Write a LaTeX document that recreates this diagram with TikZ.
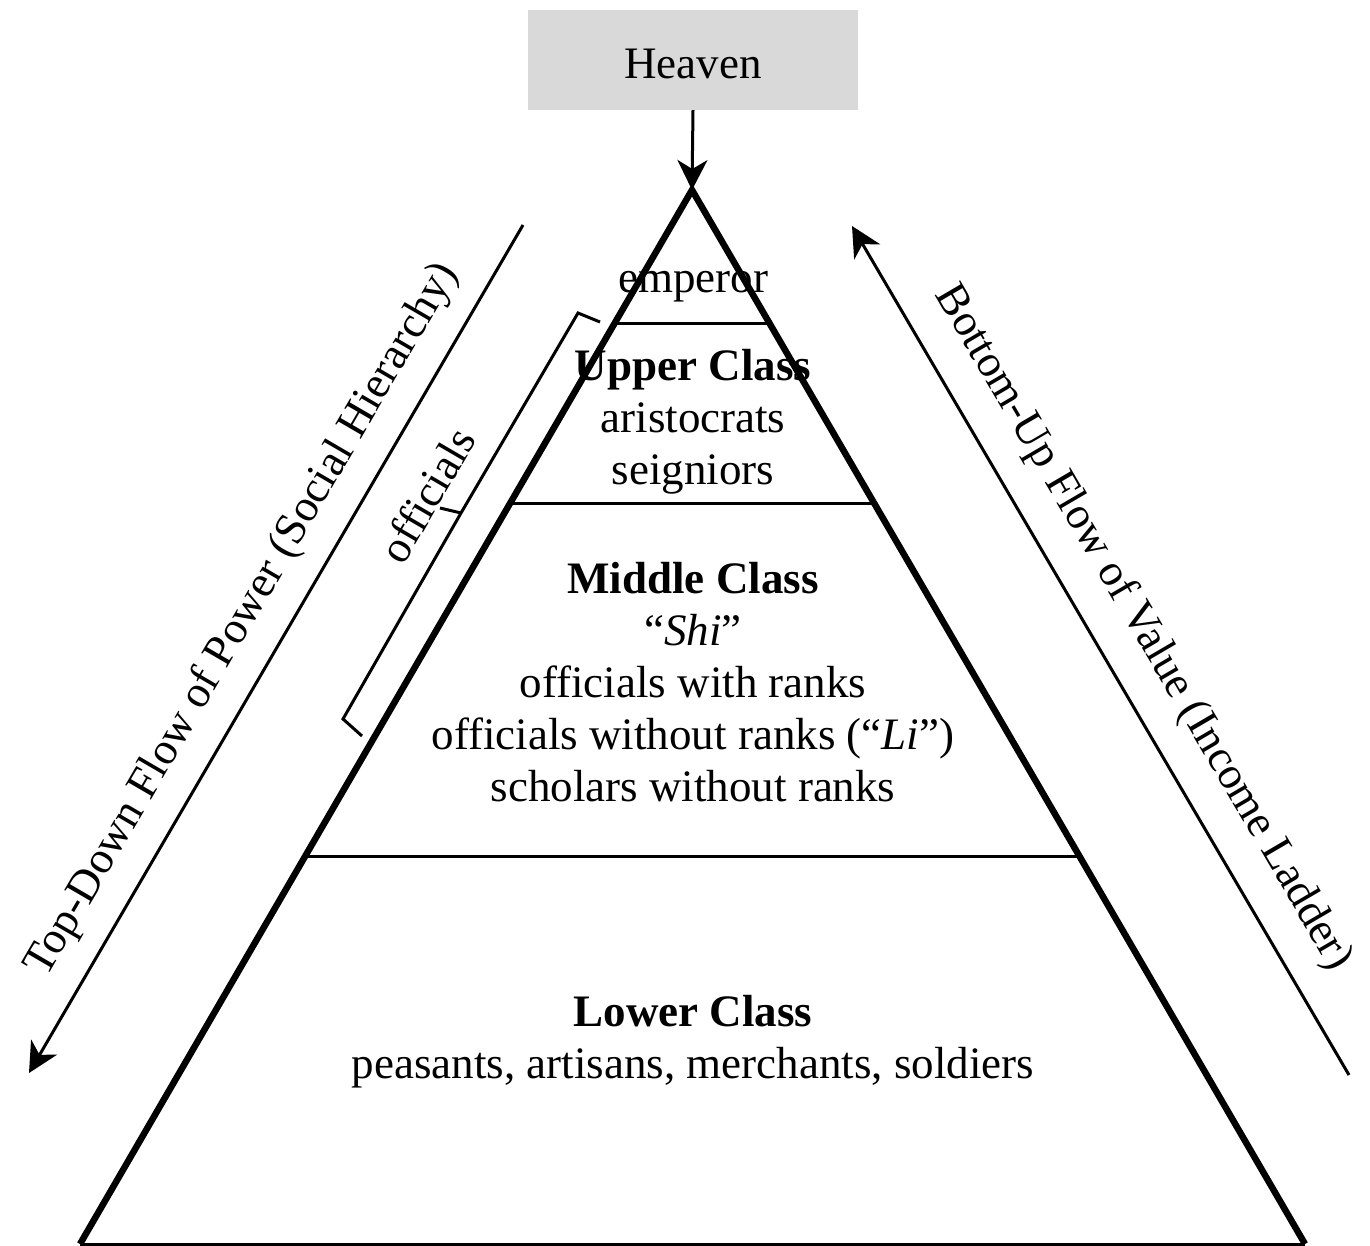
\documentclass[tikz,border=0pt]{standalone}
\usepackage{fontspec}
\setmainfont{Liberation Serif}
\usetikzlibrary{arrows.meta,calc}
\definecolor{heavengray}{HTML}{D9D9D9}
\begin{document}
\begin{tikzpicture}[x=1pt,y=-1pt,
  txt/.style={font=\fontsize{45}{52}\selectfont, inner sep=0pt, anchor=base},
  boldtxt/.style={txt, font=\fontsize{45}{52}\selectfont\bfseries},
  rottxt/.style={font=\fontsize{45}{52}\selectfont, inner sep=0pt, anchor=center},
  side/.style={line width=6.5pt, line join=miter},
  layer/.style={line width=3pt},
  flow/.style={line width=3pt, -{Stealth[length=30pt,width=30pt,inset=9pt]}},
  bracketline/.style={line width=3pt, line join=miter}]
\useasboundingbox (0,0) rectangle (1370,1245);

% Heaven box
\node[fill=heavengray, minimum width=330pt, minimum height=100pt, inner sep=0pt,
      text height=36pt, text depth=0pt,
      font=\fontsize{45}{52}\selectfont] (heaven) at (693,60) {Heaven};

% pyramid
\coordinate (apex) at (692,190);
\coordinate (bl) at (80,1244);
\coordinate (br) at (1305,1244);
\draw[side] (bl) -- (apex) -- (br);
\draw[layer] (bl) -- (br);
\draw[layer] ($(apex)!0.1262!(bl)$) -- ($(apex)!0.1262!(br)$);
\draw[layer] ($(apex)!0.2970!(bl)$) -- ($(apex)!0.2970!(br)$);
\draw[layer] ($(apex)!0.6328!(bl)$) -- ($(apex)!0.6328!(br)$);

\draw[flow] (heaven.south) -- (apex);

% side flows
\coordinate (lftop) at (523,225);
\coordinate (lfbot) at (29,1073);
\coordinate (rtbot) at (1349,1075);
\coordinate (rttop) at (852,226);
\draw[flow] (lftop) -- (lfbot);
\draw[flow] (rtbot) -- (rttop);
\node[rottxt, rotate=59.78] (powerlbl) at (243,620) {Top-Down Flow of Power (Social Hierarchy)};
\node[rottxt, rotate=-59.65] (valuelbl) at (1143,628) {Bottom-Up Flow of Value (Income Ladder)};

% officials bracket
\coordinate (b1) at (600,322);
\coordinate (b2) at (578,313);
\coordinate (bm) at (461,513);
\coordinate (bt) at (440,508);
\coordinate (b3) at (343,719);
\coordinate (b4) at (362,736);
\draw[bracketline] (b1) -- (b2) -- (bm) -- (b3) -- (b4);
\draw[bracketline] (bm) -- (bt);
\node[rottxt, rotate=59.78] (offlbl) at (427,495) {officials};

% texts
\node[txt] (emp) at (693,292) {emperor};
\node[boldtxt] (upper) at (693,380) {Upper Class};
\node[txt] (arist) at (693,432) {aristocrats};
\node[txt] (seign) at (693,484) {seigniors};
\node[boldtxt] (middle) at (693,593) {Middle Class};
\node[txt] (shi) at (693,645) {“\textit{Shi}”};
\node[txt] (offw) at (693,697) {officials with ranks};
\node[txt] (offwo) at (693,749) {officials without ranks (“\textit{Li}”)};
\node[txt] (schol) at (693,801) {scholars without ranks};
\node[boldtxt] (lower) at (693,1026) {Lower Class};
\node[txt] (peas) at (693,1078) {peasants, artisans, merchants, soldiers};
\end{tikzpicture}
\end{document}
